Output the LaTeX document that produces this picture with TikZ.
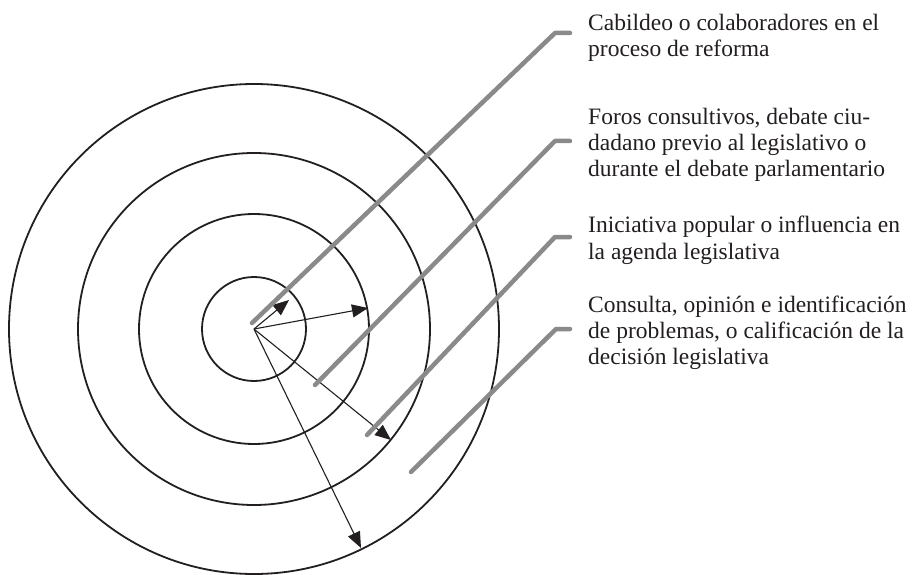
\documentclass[tikz,border=0pt]{standalone}
\usepackage{fontspec}
\setmainfont{Liberation Serif}
\usetikzlibrary{arrows.meta}
\definecolor{leadergray}{RGB}{138,138,138}
\definecolor{ink}{RGB}{35,31,32}
\begin{document}
\begin{tikzpicture}[x=1pt,y=-1pt,
  ring/.style={draw=ink,line width=1.8pt},
  radiusarrow/.style={draw=ink,line width=1.1pt,-{Triangle[length=16pt,width=13pt]}},
  leader/.style={draw=leadergray,line width=4.5pt,line cap=round,line join=round},
  lbl/.style={anchor=base west,inner sep=0pt,text=ink,font=\fontsize{23.5}{25.7}\selectfont}]
\useasboundingbox (0,0) rectangle (916,575);
\fill[white] (0,0) rectangle (916,575);

% centre and rings
\coordinate (C) at (254,329);
\draw[ring] (C) circle[radius=52];
\draw[ring] (C) circle[radius=115];
\draw[ring] (C) circle[radius=176];
\draw[ring] (C) circle[radius=245];

% radius arrows
\coordinate (a1) at (289,300);
\coordinate (a2) at (368,308);
\coordinate (a3) at (391,440);
\coordinate (a4) at (361,548);
\draw[radiusarrow] (C) -- (a1);
\draw[radiusarrow] (C) -- (a2);
\draw[radiusarrow] (C) -- (a3);
\draw[radiusarrow] (C) -- (a4);

% leader lines
\coordinate (s1) at (252,323); \coordinate (k1) at (555,33);  \coordinate (e1) at (570,33);
\coordinate (s2) at (315,385); \coordinate (k2) at (555,141); \coordinate (e2) at (570,141);
\coordinate (s3) at (367,435); \coordinate (k3) at (555,237); \coordinate (e3) at (570,237);
\coordinate (s4) at (411,472); \coordinate (k4) at (556,329); \coordinate (e4) at (570,329);
\draw[leader] (s1) -- (k1) -- (e1);
\draw[leader] (s2) -- (k2) -- (e2);
\draw[leader] (s3) -- (k3) -- (e3);
\draw[leader] (s4) -- (k4) -- (e4);

% labels
\node[lbl] (t1a) at (588,31)  {Cabildeo o colaboradores en el};
\node[lbl] (t1b) at (588,57)  {proceso de reforma};
\node[lbl] (t2a) at (588,125) {Foros consultivos, debate ciu-};
\node[lbl] (t2b) at (588,151) {dadano previo al legislativo o};
\node[lbl] (t2c) at (588,176) {durante el debate parlamentario};
\node[lbl] (t3a) at (588,233) {Iniciativa popular o influencia en};
\node[lbl] (t3b) at (588,259) {la agenda legislativa};
\node[lbl] (t4a) at (588,312) {Consulta, opinión e identificación};
\node[lbl] (t4b) at (588,338) {de problemas, o calificación de la};
\node[lbl] (t4c) at (588,364) {decisión legislativa};
\end{tikzpicture}
\end{document}
